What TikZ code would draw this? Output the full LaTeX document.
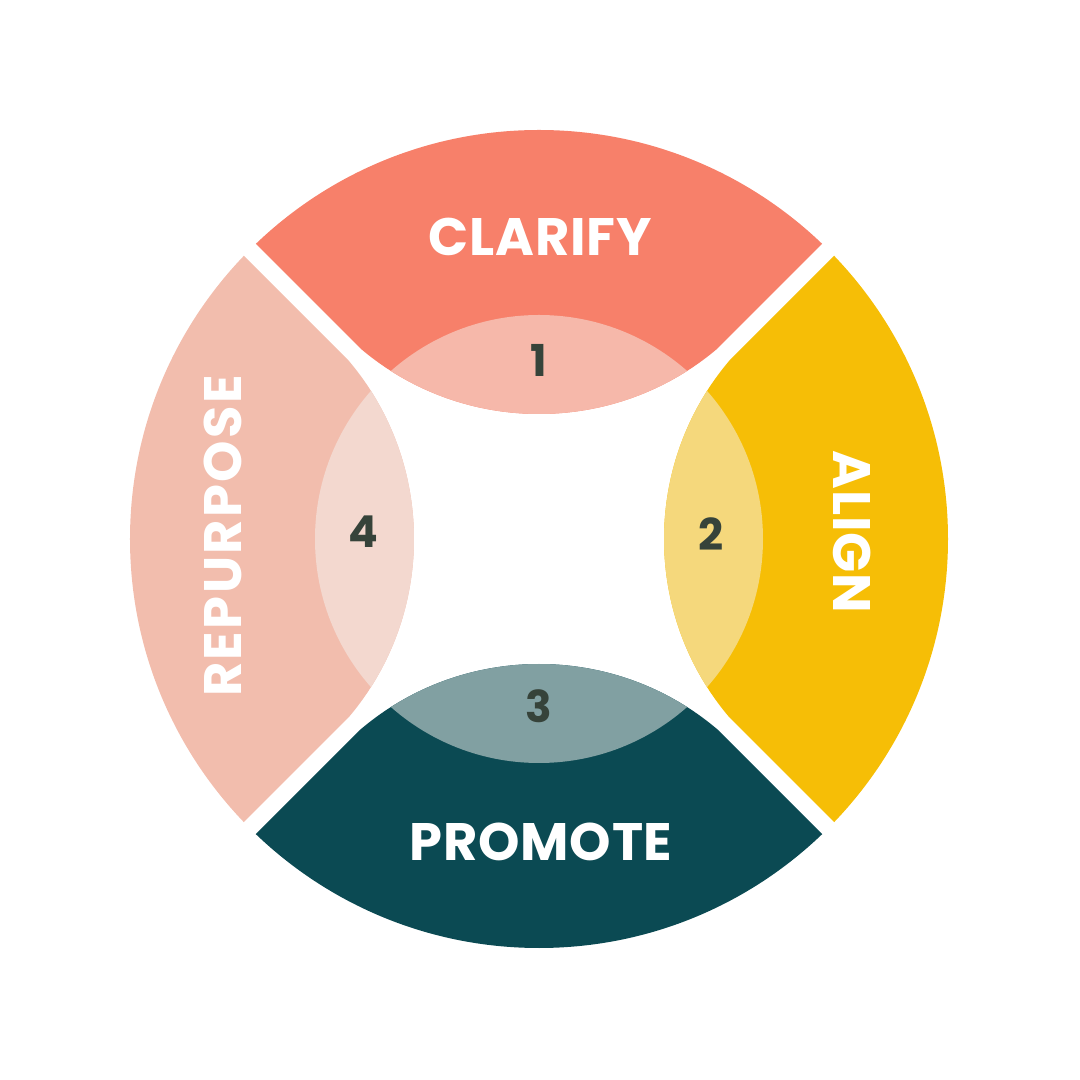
\documentclass[tikz,border=0pt]{standalone}
\usepackage{fontspec}
\usepackage{xcolor}
\newfontfamily\stagefont[LetterSpace=1.5]{Poppins}
\newfontfamily\stagewidefont[LetterSpace=4.5]{Poppins}
\newfontfamily\numfont{Poppins}
\definecolor{clarifyC}{HTML}{F7806A}
\definecolor{clarifyL}{HTML}{F6B8AA}
\definecolor{alignC}{HTML}{F6BE06}
\definecolor{alignL}{HTML}{F5D87C}
\definecolor{promoteC}{HTML}{0B4A53}
\definecolor{promoteL}{HTML}{81A0A2}
\definecolor{repurposeC}{HTML}{F2BDAD}
\definecolor{repurposeL}{HTML}{F3D8CF}
\definecolor{numC}{HTML}{36433A}

\begin{document}
\begin{tikzpicture}[
    stage/.style={text=white, font=\stagefont\bfseries\fontsize{15}{18}\selectfont,
                  inner sep=0pt},
    num/.style={text=numC, font=\numfont\bfseries\fontsize{12.5}{15}\selectfont,
                inner sep=0pt}
  ]
  \useasboundingbox (-5.39,-5.41) rectangle (5.41,5.39);

  % segments and their lenses
  \foreach \ang/\seg/\lens in {0/clarifyC/clarifyL, -90/alignC/alignL,
                               180/promoteC/promoteL, 90/repurposeC/repurposeL} {
    \begin{scope}[rotate=\ang]
      \clip (0,0.12) -- (-5,5.12) -- (5,5.12) -- cycle;
      \clip (0,0) circle (4.09);
      \clip (-6,-6) -- ([shift={(0,4.01)}]225:2.76)
            arc[start angle=225, end angle=315, radius=2.76]
            -- (6,-6) -- (6,6) -- (-6,6) -- cycle;
      \fill[\seg] (-5,-1) rectangle (5,5);
      \fill[\lens] (0,0) circle (2.24);
    \end{scope}
  }

  % stage labels
  \node[stage] (clarify) at (0.01,3.02) {CLARIFY};
  \node[stage, rotate=-90] (align) at (3.13,0.07) {ALIGN};
  \node[stage] (promote) at (0.02,-3.03) {PROMOTE};
  \node[stage, rotate=90, font=\stagewidefont\bfseries\fontsize{15}{18}\selectfont]
    (repurpose) at (-3.16,0.03) {REPURPOSE};

  % numbers
  \node[num] (num1) at (0,1.79) {1};
  \node[num] (num2) at (1.72,0.05) {2};
  \node[num] (num3) at (0,-1.67) {3};
  \node[num] (num4) at (-1.76,0.07) {4};
\end{tikzpicture}
\end{document}
